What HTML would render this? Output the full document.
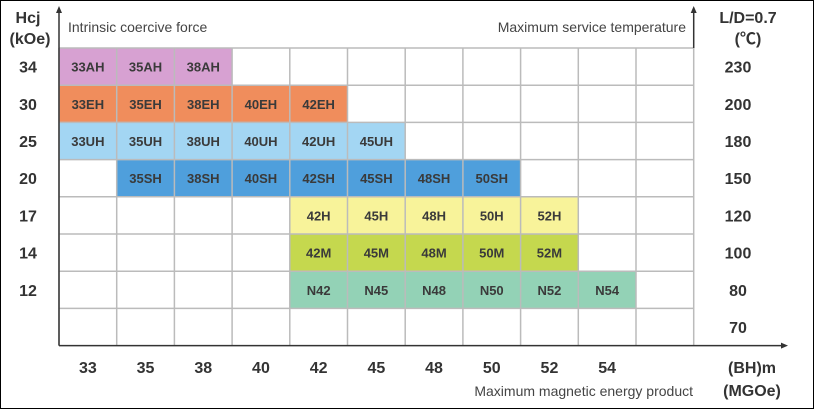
<!DOCTYPE html>
<html><head><meta charset="utf-8">
<style>
body{margin:0;background:#fff;}
#wrap{position:relative;width:814px;height:409px;overflow:hidden;font-family:"Liberation Sans",sans-serif;}
svg text{font-family:"Liberation Sans","Noto Sans CJK SC",sans-serif;}
</style></head>
<body>
<div id="wrap">
<svg id="chart" width="814" height="409"></svg>
</div>
<script>
const xCategories=["33","35","38","40","42","45","48","50","52","54",""];
const hcjLabels=["34","30","25","20","17","14","12",""];
const tempLabels=["230","200","180","150","120","100","80","70"];
const rowSuffix=["AH","EH","UH","SH","H","M","N"];
const rowStart=[0,0,0,1,4,4,4];
const rowCount=[3,5,6,7,5,5,6];
const rowColors=["#d7a1d2","#f08d5c","#a3d6f3","#4f9fdc","#f8f39a","#c5d84e","#93d2b6"];
const svg=document.getElementById('chart');
const NS="http://www.w3.org/2000/svg";
const x0=59,cw=57.7,y0=48,rh=37.2,nCols=11,nRows=8;
function xs(i){return x0+i*cw;}
function ys(j){return y0+j*rh;}
function mk(t,a,name){const e=document.createElementNS(NS,t);for(const k in a)e.setAttribute(k,a[k]);


svg.appendChild(e);return e;}
mk('rect',{x:0.5,y:0.5,width:813,height:408,fill:'#fff',stroke:'#000'},'chart-border');
// cells
for(let r=0;r<rowSuffix.length;r++){
 for(let k=0;k<rowCount[r];k++){
  const c=rowStart[r]+k;
  mk('rect',{x:xs(c),y:ys(r),width:cw,height:rh,fill:rowColors[r]},'cell-'+xCategories[c]+rowSuffix[r]);
  const lbl=rowSuffix[r]==="N"?"N"+xCategories[c]:xCategories[c]+rowSuffix[r];
  const t=mk('text',{x:xs(c)+cw/2,y:ys(r)+rh/2+5,'text-anchor':'middle','font-size':13,'font-weight':'bold',fill:'#3a3a3a'},'grade-label-'+lbl);
  t.textContent=lbl;
 }
}
// grid
for(let i=0;i<=nCols;i++) mk('line',{x1:xs(i),y1:y0,x2:xs(i),y2:ys(nRows),stroke:'#bbb','stroke-width':1.5},'grid-v');
for(let j=0;j<nRows;j++) mk('line',{x1:x0,y1:ys(j),x2:xs(nCols),y2:ys(j),stroke:'#bbb','stroke-width':1.5},'grid-h');
// axes
mk('line',{x1:x0,y1:ys(nRows),x2:x0,y2:12,stroke:'#333','stroke-width':1.5},'y-axis');
mk('polygon',{points:`${x0-3},13 ${x0+3},13 ${x0},6`,fill:'#333'},'y-axis-arrow');
mk('line',{x1:x0,y1:ys(nRows),x2:782,y2:ys(nRows),stroke:'#333','stroke-width':1.5},'x-axis');
mk('polygon',{points:`781,${ys(nRows)-3} 781,${ys(nRows)+3} 788,${ys(nRows)}`,fill:'#333'},'x-axis-arrow');
mk('line',{x1:xs(nCols),y1:ys(0),x2:xs(nCols),y2:12,stroke:'#333','stroke-width':1.5},'right-axis');
mk('polygon',{points:`${xs(nCols)-3},13 ${xs(nCols)+3},13 ${xs(nCols)},6`,fill:'#333'},'right-axis-arrow');
// tick labels
function txt(x,y,s,name,o){const t=mk('text',Object.assign({x:x,y:y,'font-size':16,'font-weight':'bold',fill:'#333','text-anchor':'middle'},o||{}),name);t.textContent=s;return t;}
hcjLabels.forEach((s,j)=>{if(s)txt(28,ys(j)+rh/2+6,s,'hcj-tick-'+s);});
tempLabels.forEach((s,j)=>txt(738,ys(j)+rh/2+6,s,'temp-tick-'+s));
xCategories.forEach((s,i)=>{if(s)txt(xs(i)+cw/2,373,s,'bh-tick-'+s);});
txt(28,23,'Hcj','y-axis-title-1');
txt(30,44,'(kOe)','y-axis-title-2');
txt(748,23,'L/D=0.7','right-axis-title-1');
txt(748,44,'(℃)','right-axis-title-2');
txt(752,373,'(BH)m','x-axis-title-1');
txt(752,396,'(MGOe)','x-axis-title-2');
txt(68,32,'Intrinsic coercive force','y-axis-caption',{'font-size':14,'font-weight':'normal','text-anchor':'start',fill:'#444'});
txt(686,32,'Maximum service temperature','right-axis-caption',{'font-size':14,'font-weight':'normal','text-anchor':'end',fill:'#444'});
txt(693,396,'Maximum magnetic energy product','x-axis-caption',{'font-size':14,'font-weight':'normal','text-anchor':'end',fill:'#444'});
</script>
</body></html>
